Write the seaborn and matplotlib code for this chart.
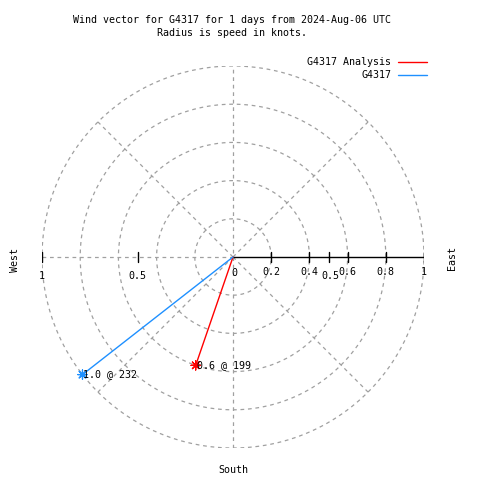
import numpy as np
import pandas as pd
import matplotlib
matplotlib.use("Agg")
import matplotlib.pyplot as plt
from matplotlib.lines import Line2D
import seaborn as sns

# ---- data ----
series_names = ["G4317 Analysis", "G4317"]
speeds = [0.6, 1.0]          # knots
directions = [199, 232]      # degrees, compass (from north, clockwise)
series_colors = ["#ff0000", "#1e90ff"]
ring_values = [0.2, 0.4, 0.6, 0.8, 1.0]
right_ticks = [0.2, 0.4, 0.6, 0.8, 1.0]
right_tick_labels = ["0.2", "0.4", "0.6", "0.8", "1"]
r_ticks = [0.5]
left_ticks = [1.0, 0.5]
left_tick_labels = ["1", "0.5"]
title_lines = ["Wind vector for G4317 for 1 days from 2024-Aug-06 UTC",
               "Radius is speed in knots."]

sns.set_style("white")
plt.rcParams['font.family'] = ['DejaVu Sans Mono', 'DejaVu Sans']
plt.rcParams['text.color'] = 'black'
FS = 7.2
W = H = 480
fig = plt.figure(figsize=(4.8, 4.8), dpi=100)
ax = fig.add_axes([42 / W, 32 / H, 382 / W, 382 / H])
ax.set_xlim(-1, 1)
ax.set_ylim(-1, 1)
ax.set_aspect('equal')
ax.axis('off')

def ftext(x, y, s, **kw):
    kw.setdefault('fontsize', FS)
    kw.setdefault('color', 'black')
    fig.text(x / W, 1 - y / H, s, **kw)

grid_kw = dict(color="#a0a0a0", lw=0.9, ls=(0, (3, 3)), zorder=1)
# rings
t = np.linspace(0, 2 * np.pi, 400)
for rv in ring_values:
    ax.plot(rv * np.cos(t), rv * np.sin(t), **grid_kw)
# radial lines
ax.plot([0, 0], [-1, 1], **grid_kw)
ax.plot([-1, 0], [0, 0], **grid_kw)
for a in [45, 135, 225, 315]:
    ar = np.deg2rad(a)
    ax.plot([0, np.cos(ar)], [0, np.sin(ar)], **grid_kw)

# solid radial axis
ax.plot([0, 1], [0, 0], color="black", lw=1.0, zorder=3)
tick_h = 0.024
for tv in right_ticks + r_ticks:
    ax.plot([tv, tv], [-tick_h, tick_h], color="black", lw=1.0, zorder=3)
for tv in left_ticks:
    ax.plot([-tv, -tv], [-tick_h, tick_h], color="black", lw=1.0, zorder=3)

# tick labels
cx, cy, R = 233, 257, 191
ftext(cx + 1, 273, "0", ha='center', va='center')
for tv, lab in zip(right_ticks, right_tick_labels):
    ftext(cx + tv * R, 272, lab, ha='center', va='center')
for tv in r_ticks:
    ftext(cx + tv * R + 2, 276, "0.5", ha='center', va='center')
for tv, lab in zip(left_ticks, left_tick_labels):
    ftext(cx - tv * R, 276, lab, ha='center', va='center')

# vectors
rows = []
for name, sp, d in zip(series_names, speeds, directions):
    th = np.deg2rad(d)
    rows.append(dict(series=name, x=0.0, y=0.0, order=0))
    rows.append(dict(series=name, x=sp * np.sin(th), y=sp * np.cos(th), order=1))
df = pd.DataFrame(rows)
palette = dict(zip(series_names, series_colors))
sns.lineplot(data=df, x='x', y='y', hue='series', palette=palette, sort=False,
             estimator=None, units='series', lw=1.0, legend=False, ax=ax, zorder=4)
ends = df[df['order'] == 1]
sns.scatterplot(data=ends, x='x', y='y', hue='series', palette=palette,
                marker=(8, 2, 0), s=45, linewidth=0.9, legend=False, ax=ax, zorder=5)
for _, row in ends.iterrows():
    i = series_names.index(row['series'])
    ax.annotate(f"{speeds[i]:.1f} @ {directions[i]}", (row['x'], row['y']),
                xytext=(1, 0), textcoords='offset pixels', color='black',
                ha='left', va='center', fontsize=FS, zorder=6)

# titles & compass labels
ftext(232, 20, title_lines[0], ha='center', va='center')
ftext(232, 33, title_lines[1], ha='center', va='center')
ftext(15, 260, "West", ha='center', va='center', rotation=90)
ftext(452, 258, "East", ha='center', va='center', rotation=90)
ftext(233, 470, "South", ha='center', va='center')

# legend
for k, (name, col) in enumerate(zip(series_names, series_colors)):
    y = 62 + 13 * k
    ftext(391, y, name, ha='right', va='center')
    fig.add_artist(Line2D([398 / W, 427 / W], [1 - y / H, 1 - y / H],
                          color=col, lw=1.0, transform=fig.transFigure))

fig.savefig("out.png", dpi=100, facecolor="white")
